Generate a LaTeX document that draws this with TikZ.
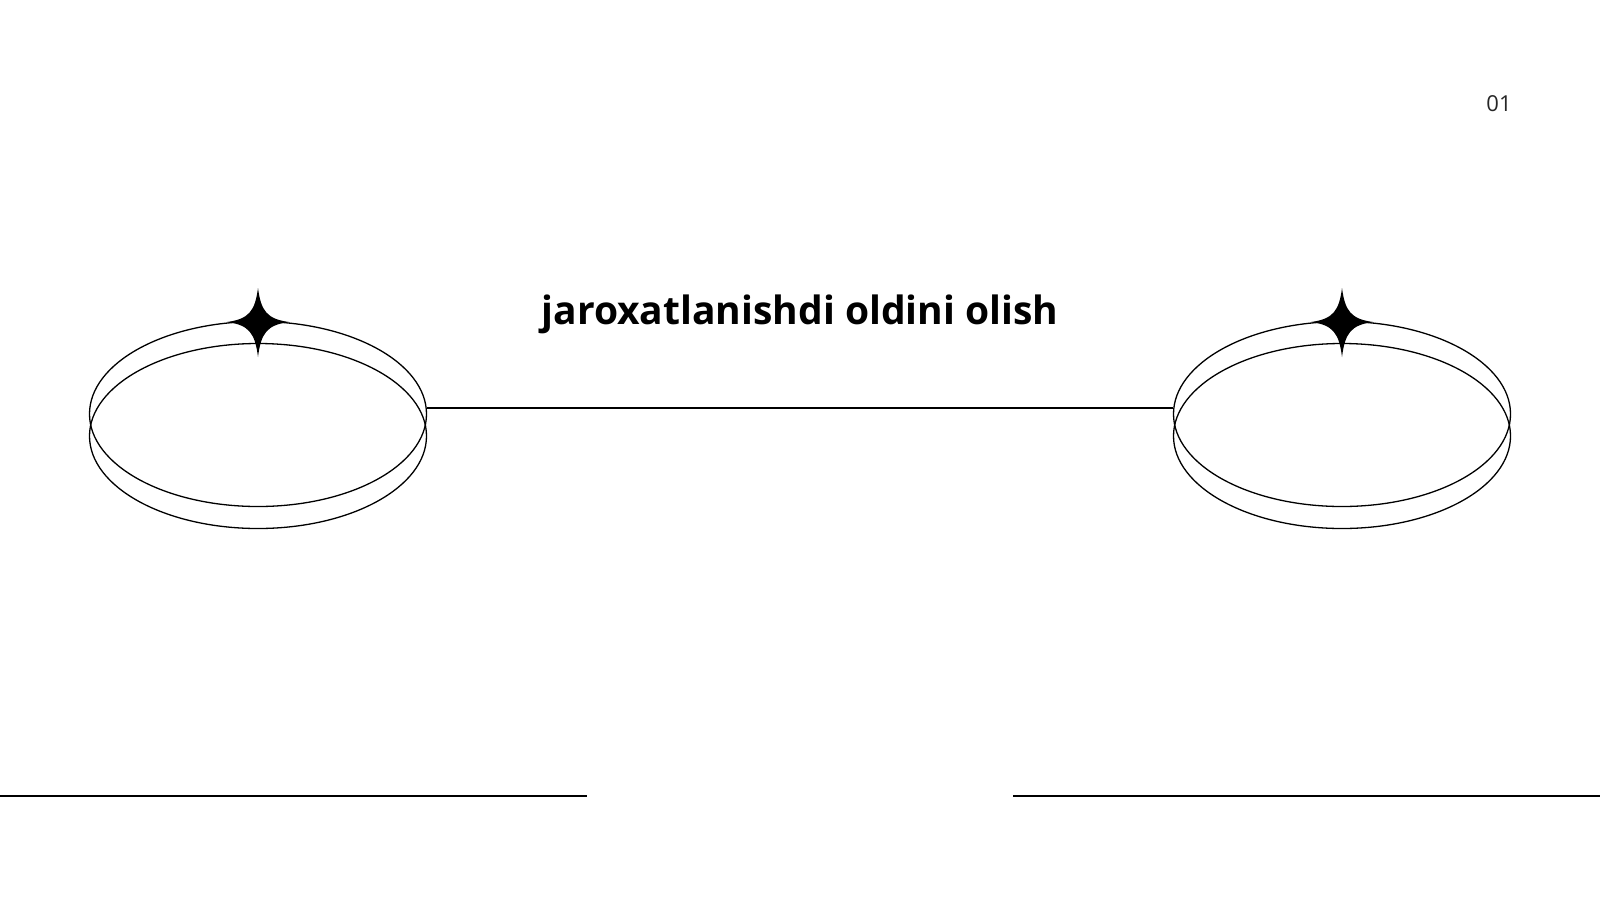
\documentclass[tikz,border=0pt]{standalone}
\usepackage{fontspec}
\setmainfont{Open Sans}
\usepackage{tikz}
\usetikzlibrary{shapes.geometric,positioning}

\begin{document}
\begin{tikzpicture}[x=1pt,y=-1pt]
\tikzstyle{ring}=[ellipse,draw,line width=1.3pt,inner sep=0pt,minimum width=337pt,minimum height=185pt]
\tikzstyle{rule}=[line width=1.8pt]
\tikzstyle{every node}=[inner sep=0pt]
\useasboundingbox (0,0) rectangle (1600,900);
% two rings on each side
\node[ring] (leftup) at (258,414) {};
\node[ring] (leftdown) at (258,436) {};
\node[ring] (rightup) at (1342,414) {};
\node[ring] (rightdown) at (1342,436) {};
% sparkles on top
\foreach \cx in {258,1342}
  \fill[shift={(\cx,322)}] (0,-34) .. controls (3,-11) and (9,-3) .. (31,0)
    .. controls (9,3) and (3,11) .. (0,35)
    .. controls (-3,11) and (-9,3) .. (-31,0)
    .. controls (-9,-3) and (-3,-11) .. cycle;
% link between the rings
\draw[line width=1.5pt] ([yshift=6pt]leftup.east) -- ([yshift=6pt]rightup.west);
\node[anchor=base,font=\fontsize{39}{47}\selectfont\bfseries] (title) at (800,324) {jaroxatlanishdi oldini olish};
\node[anchor=base,text=black!85,font=\fontsize{22}{26}\selectfont] (pagenum) at (1499,111) {01};
% bottom rules
\coordinate (ruleA) at (0,796);
\coordinate (ruleB) at (587,796);
\coordinate (ruleC) at (1013,796);
\coordinate (ruleD) at (1600,796);
\draw[rule] (ruleA) -- (ruleB);
\draw[rule] (ruleC) -- (ruleD);
\end{tikzpicture}
\end{document}
